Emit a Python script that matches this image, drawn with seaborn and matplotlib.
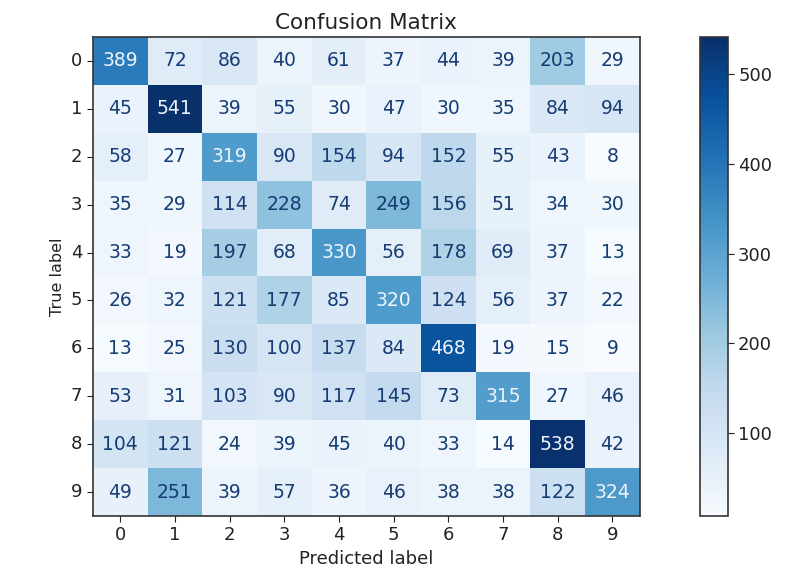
import numpy as np
import pandas as pd
import matplotlib
matplotlib.use("Agg")
import matplotlib.pyplot as plt
import seaborn as sns

labels = ["0", "1", "2", "3", "4", "5", "6", "7", "8", "9"]
row0 = [389, 72, 86, 40, 61, 37, 44, 39, 203, 29]
row1 = [45, 541, 39, 55, 30, 47, 30, 35, 84, 94]
row2 = [58, 27, 319, 90, 154, 94, 152, 55, 43, 8]
row3 = [35, 29, 114, 228, 74, 249, 156, 51, 34, 30]
row4 = [33, 19, 197, 68, 330, 56, 178, 69, 37, 13]
row5 = [26, 32, 121, 177, 85, 320, 124, 56, 37, 22]
row6 = [13, 25, 130, 100, 137, 84, 468, 19, 15, 9]
row7 = [53, 31, 103, 90, 117, 145, 73, 315, 27, 46]
row8 = [104, 121, 24, 39, 45, 40, 33, 14, 538, 42]
row9 = [49, 251, 39, 57, 36, 46, 38, 38, 122, 324]
cbar_ticks = [100, 200, 300, 400, 500]

cm = np.array([row0, row1, row2, row3, row4, row5, row6, row7, row8, row9])
df = pd.DataFrame(cm, index=labels, columns=labels)

fig = plt.figure(figsize=(7.87, 5.71), dpi=100)
ax = fig.add_axes([0.118, 0.0963, 0.695, 0.839])
cax = fig.add_axes([0.889, 0.0963, 0.0356, 0.839])

cmap = plt.get_cmap("Blues")
sns.heatmap(df, ax=ax, cbar_ax=cax, cmap=cmap, annot=True, fmt="d",
            annot_kws={"fontsize": 13.5}, cbar_kws={"ticks": cbar_ticks})

thresh = (cm.max() + cm.min()) / 2.0
dark = "#163d73"
light = "#eef4fb"
for t in ax.texts:
    v = int(t.get_text())
    t.set_color(light if v > thresh else dark)

for s in ax.spines.values():
    s.set_visible(True)
    s.set_linewidth(1.2)
    s.set_color("#333333")
cax.tick_params(labelsize=13, length=4, colors="#222222")
cbar = ax.collections[0].colorbar
cbar.outline.set_visible(True)
cbar.outline.set_linewidth(1.2)
cbar.outline.set_edgecolor("#333333")

ax.tick_params(axis="both", labelsize=13, length=4, colors="#222222")
ax.set_yticklabels(labels, rotation=0)
ax.set_xticklabels(labels, rotation=0)
ax.set_xlabel("Predicted label", fontsize=13, color="#222222")
ax.set_ylabel("True label", fontsize=11.5, color="#222222")
ax.set_title("Confusion Matrix", fontsize=15.5, color="#222222")

fig.savefig("out.png", dpi=100)
